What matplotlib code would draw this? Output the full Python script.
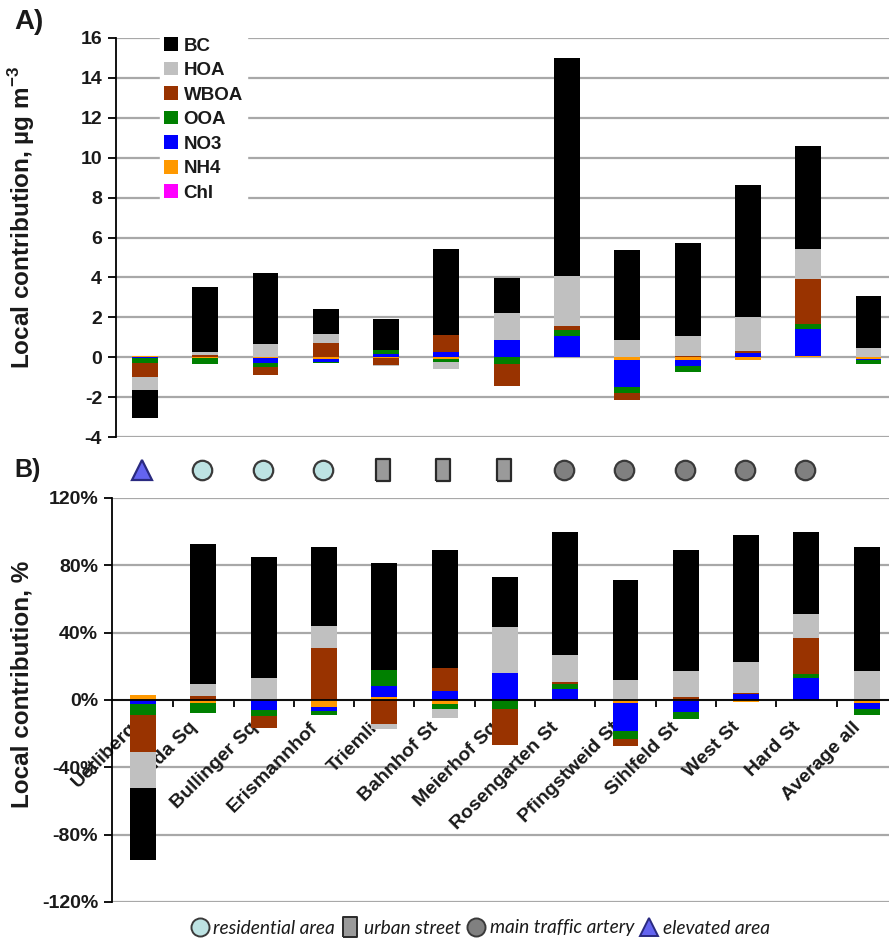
import matplotlib
matplotlib.use("Agg")
import matplotlib.pyplot as plt
import numpy as np
from matplotlib.lines import Line2D

plt.rcParams['font.family'] = ['Liberation Sans', 'DejaVu Sans']
plt.rcParams['mathtext.fontset'] = 'custom'
plt.rcParams['mathtext.rm'] = 'Liberation Sans'
plt.rcParams['mathtext.bf'] = 'Liberation Sans:bold'

# ---------------- data ----------------
sites = ["Uetliberg", "Ida Sq", "Bullinger Sq", "Erismannhof", "Triemli", "Bahnhof St",
         "Meierhof Sq", "Rosengarten St", "Pfingstweid St", "Sihlfeld St", "West St",
         "Hard St", "Average all"]
site_types = ["elevated", "residential", "residential", "residential", "urban", "urban",
              "urban", "traffic", "traffic", "traffic", "traffic", "traffic", None]

# stacking order (closest to zero first)
species = ["Chl", "NH4", "NO3", "OOA", "WBOA", "HOA", "BC"]
colors = {"BC": "#000000", "HOA": "#C0C0C0", "WBOA": "#993300", "OOA": "#008000",
          "NO3": "#0000FF", "NH4": "#FF9900", "Chl": "#FF00FF"}

# Panel A: local contribution, ug m-3
abs_BC   = [-1.42, 3.25, 3.57, 1.25, 1.58, 4.30, 1.75, 10.93, 4.50, 4.68, 6.60, 5.14, 2.60]
abs_HOA  = [-0.67, 0.17, 0.65, 0.45, -0.05, -0.38, 1.38, 2.50, 0.85, 1.00, 1.70, 1.50, 0.47]
abs_WBOA = [-0.70, 0.10, -0.40, 0.73, -0.35, 0.86, -1.10, 0.20, -0.37, 0.05, 0.13, 2.28, 0.00]
abs_OOA  = [-0.22, -0.28, -0.20, -0.05, 0.17, -0.15, -0.35, 0.30, -0.30, -0.28, 0.00, 0.22, -0.22]
abs_NO3  = [-0.05, 0.00, -0.25, -0.15, 0.17, 0.27, 0.85, 1.05, -1.36, -0.33, 0.20, 1.38, -0.03]
abs_NH4  = [0.05, -0.05, -0.03, -0.08, -0.03, -0.08, 0.00, 0.00, -0.12, -0.12, -0.12, 0.05, -0.10]
abs_Chl  = [0.0] * 13

# Panel B: local contribution, %
pct_BC   = [-43, 83, 72, 47, 64, 70, 30, 73, 59, 72, 75.5, 49, 74]
pct_HOA  = [-21, 7, 13, 13, -3, -5, 27, 16, 12, 15, 18.3, 14, 17]
pct_WBOA = [-22, 2.4, -7, 31, -14, 14, -21, 1.4, -4.5, 2, 1, 21.3, 0]
pct_OOA  = [-6.5, -6.5, -3.5, -2.5, 9.5, -3, -5.5, 3, -4.5, -4.4, 0, 2.6, -3.5]
pct_NO3  = [-2.5, 0, -6, -2.5, 6.6, 5.3, 16.3, 6.3, -16.6, -6.5, 3.3, 13.1, -4]
pct_NH4  = [3, -1.5, 0, -4, 1.5, -2.5, 0, 0, -2, -0.5, -1, 0, -1.5]
pct_Chl  = [0] * 13

abs_data = {"BC": abs_BC, "HOA": abs_HOA, "WBOA": abs_WBOA, "OOA": abs_OOA,
            "NO3": abs_NO3, "NH4": abs_NH4, "Chl": abs_Chl}
pct_data = {"BC": pct_BC, "HOA": pct_HOA, "WBOA": pct_WBOA, "OOA": pct_OOA,
            "NO3": pct_NO3, "NH4": pct_NH4, "Chl": pct_Chl}

yticksA = [-4, -2, 0, 2, 4, 6, 8, 10, 12, 14, 16]
yticksB = [-120, -80, -40, 0, 40, 80, 120]
yticklabelsB = ["-120%", "-80%", "-40%", "0%", "40%", "80%", "120%"]

TXT = "#1a1a1a"
GRID = "#a8a8a8"
W, H = 889, 942
fig = plt.figure(figsize=(W / 100, H / 100), dpi=100)

def px_rect(l, t, r, b):
    return [l / W, 1 - b / H, (r - l) / W, (b - t) / H]

x = np.arange(len(sites))
barw = 0.43

def stacked(ax, data):
    pos = np.zeros(len(sites))
    neg = np.zeros(len(sites))
    handles = {}
    for sp in species:
        v = np.array(data[sp], dtype=float)
        bottom = np.where(v >= 0, pos, neg)
        h = ax.bar(x, v, barw, bottom=bottom, color=colors[sp], zorder=3, linewidth=0)
        handles[sp] = h
        pos = pos + np.where(v >= 0, v, 0)
        neg = neg + np.where(v < 0, v, 0)
    return handles

# ---------------- Panel A ----------------
axA = fig.add_axes(px_rect(116, 38, 889, 437))
hA = stacked(axA, abs_data)
axA.set_xlim(-0.48, 12.34)
axA.set_ylim(-4, 16)
axA.set_yticks(yticksA)
axA.set_yticklabels([str(t) for t in yticksA])
axA.yaxis.grid(True, color=GRID, linewidth=1.6, zorder=0)
axA.set_axisbelow(True)
for s in ["top", "right", "bottom"]:
    axA.spines[s].set_visible(False)
axA.spines["left"].set_color("black")
axA.spines["left"].set_linewidth(1.3)
axA.set_xticks([])
axA.tick_params(axis="y", direction="out", length=6, width=1.3, colors="black",
                labelsize=14, labelcolor=TXT, pad=4)
for lab in axA.get_yticklabels():
    lab.set_fontweight("bold")

leg_order = ["BC", "HOA", "WBOA", "OOA", "NO3", "NH4", "Chl"]
leg = axA.legend([hA[s] for s in leg_order], leg_order, loc="upper left",
                 bbox_to_anchor=(0.045, 1.035), frameon=True, framealpha=1,
                 edgecolor="white", fancybox=False, handlelength=0.75, handleheight=0.75,
                 handletextpad=0.3, labelspacing=0.38, borderpad=0.2,
                 prop={"size": 13.5, "weight": "bold"})
for t in leg.get_texts():
    t.set_color(TXT)

fig.text(14 / W, 1 - 22 / H, "A)", fontsize=20, fontweight="bold", color=TXT,
         ha="left", va="center")
fig.text(22 / W, 1 - 217 / H, r"Local contribution, µg m$^{\mathbf{-3}}$", rotation=90,
         fontsize=17.5, fontweight="bold", color=TXT, ha="center", va="center")

# ---------------- marker row ----------------
axM = fig.add_axes(px_rect(116, 445, 889, 495))
axM.set_xlim(-0.43, 12.39)
axM.set_ylim(-1, 1)
axM.axis("off")
rect_marker = [(-0.32, -0.5), (0.32, -0.5), (0.32, 0.5), (-0.32, 0.5), (-0.32, -0.5)]
mstyle = {
    "residential": dict(marker="o", markersize=14, markerfacecolor="#BDE3E3", markeredgecolor="#3a3a3a"),
    "urban": dict(marker=rect_marker, markersize=16, markerfacecolor="#9a9a9a", markeredgecolor="#2a2a2a"),
    "traffic": dict(marker="o", markersize=14, markerfacecolor="#808080", markeredgecolor="#3a3a3a"),
    "elevated": dict(marker="^", markersize=14, markerfacecolor="#6464F0", markeredgecolor="#2a2a80"),
}
for i, t in enumerate(site_types):
    if t is None:
        continue
    axM.plot([x[i]], [0], linestyle="none", markeredgewidth=1.6, **mstyle[t])

fig.text(14 / W, 1 - 470 / H, "B)", fontsize=18, fontweight="bold", color=TXT,
         ha="left", va="center")

# ---------------- Panel B ----------------
axB = fig.add_axes(px_rect(112, 498, 889, 902))
hB = stacked(axB, pct_data)
axB.set_xlim(-0.515, 12.37)
axB.set_ylim(-120, 120)
axB.set_yticks(yticksB)
axB.set_yticklabels(yticklabelsB)
axB.yaxis.grid(True, color=GRID, linewidth=1.6, zorder=0)
axB.set_axisbelow(True)
for s in ["top", "right"]:
    axB.spines[s].set_visible(False)
axB.spines["bottom"].set_position(("data", 0))
axB.spines["bottom"].set_color("black")
axB.spines["bottom"].set_linewidth(1.3)
axB.spines["bottom"].set_zorder(4)
axB.spines["left"].set_color("black")
axB.spines["left"].set_linewidth(1.3)
axB.set_xticks(x[:-1] + 0.5)
axB.set_xticklabels([])
axB.tick_params(axis="x", direction="out", length=5, width=1.3, colors="black")
axB.tick_params(axis="y", direction="out", length=6, width=1.3, colors="black",
                labelsize=14, labelcolor=TXT, pad=4)
for lab in axB.get_yticklabels():
    lab.set_fontweight("bold")

for i, name in enumerate(sites):
    axB.annotate(name, xy=(x[i], 0), xytext=(-15, -19), textcoords="offset pixels",
                 rotation=45, ha="right", va="top", rotation_mode="anchor",
                 fontsize=14, fontweight="bold", color=TXT, zorder=2)

fig.text(22 / W, 1 - 684 / H, "Local contribution, %", rotation=90,
         fontsize=17.5, fontweight="bold", color=TXT, ha="center", va="center")

# ---------------- site-type legend ----------------
type_order = ["residential", "urban", "traffic", "elevated"]
type_labels = ["residential area", "urban street", "main traffic artery", "elevated area"]
leg_handles = [Line2D([], [], linestyle="none", markeredgewidth=1.4,
                      **{**mstyle[t], "markersize": mstyle[t]["markersize"] - 1})
               for t in type_order]
fig.legend(leg_handles, type_labels, loc="center", bbox_to_anchor=(480 / W, 1 - 928 / H),
           ncol=4, frameon=False, handlelength=1.0, handletextpad=0.2,
           columnspacing=0.3, prop={"family": "Lato", "size": 13.8, "style": "italic"},
           labelcolor=TXT)

fig.savefig("out.png", dpi=100)
